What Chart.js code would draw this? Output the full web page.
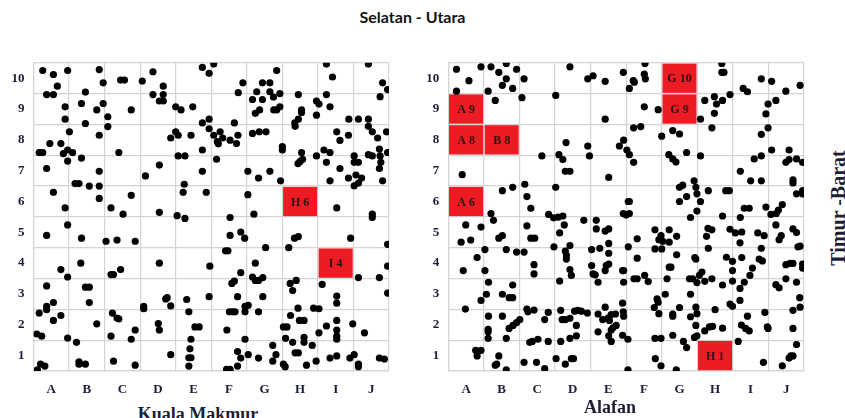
<!DOCTYPE html>
<html>
<head>
<meta charset="utf-8">
<script src="https://cdn.jsdelivr.net/npm/chart.js@4.4.1/dist/chart.umd.min.js"></script>
<style>
body{margin:0;background:#fff;width:845px;height:418px;overflow:hidden;position:relative}
.box{position:absolute}
#title{position:absolute;left:0;width:825px;top:7px;text-align:center;font:bold 16px Lato,sans-serif;color:#111}
.xt{position:absolute;width:220px;text-align:center;font:bold 18px "Liberation Serif",serif;color:#1f1f33;line-height:18px}
#side{position:absolute;left:758px;top:197px;width:160px;height:22px;line-height:22px;text-align:center;
  font:bold 20px "Liberation Serif",serif;color:#1f1f33;transform:rotate(-90deg)}
</style>
</head>
<body>
<div id="title">Selatan - Utara</div>
<div class="box" style="left:0;top:46px;width:400px;height:354px"><canvas id="left"></canvas></div>
<div class="box" style="left:410px;top:46px;width:405px;height:354px"><canvas id="right"></canvas></div>
<div class="xt" style="left:88px;top:405px">Kuala Makmur</div>
<div class="xt" style="left:500px;top:398px">Alafan</div>
<div id="side">Timur -Barat</div>
<script>
const xLabels = ['A','B','C','D','E','F','G','H','I','J'];
const yLabels = ['1','2','3','4','5','6','7','8','9','10'];

// highlighted grid cells [column, row]
const leftCells = [['H',6],['I',4]];
const rightCells = [['A',9],['A',8],['B',8],['A',6],['G',10],['G',9],['H',1]];

// Kuala Makmur points, [x, y] in grid units (A = 0..1, row 1 = 0..1)
const leftPoints = [
  [0.26,9.75],[0.56,9.62],[0.67,9.24],[0.37,8.97],[0.56,8.97],[0.96,9.75],[0.89,8.57],[0.89,8.17],[1.01,7.76],[0.46,7.38],
  [0.77,7.38],[0.16,7.09],[0.26,7.09],[0.84,7.05],[0.96,7.17],[1.10,7.09],[0.96,6.81],[0.37,6.57],[0.56,5.80],[0.89,5.29],[0.96,4.74],
  [1.35,8.68],[1.46,9.05],[1.46,8.03],[1.35,6.91],[1.17,6.08],[1.28,6.08],[1.57,6.00],[1.85,9.78],[1.96,9.35],[1.78,8.47],
  [1.96,8.68],[2.09,8.25],[2.09,7.93],[1.85,7.65],[1.85,6.48],[1.85,6.00],[1.85,5.60],[2.18,5.29],
  [2.40,7.09],[2.45,9.44],[2.56,9.44],[2.75,8.47],[2.75,5.70],[2.52,5.09],
  [3.06,9.41],[3.36,9.71],[3.36,8.97],[3.65,9.24],[3.65,8.97],[3.54,8.76],[3.65,8.76],[4.00,8.57],[4.15,8.47],[3.15,6.33],
  [3.54,6.68],[3.54,5.15],[3.86,7.56],[4.00,7.76],[4.07,7.65],[4.07,6.98],[4.26,6.98],[4.04,5.04],
  [4.24,6.06],[4.21,5.80],[4.26,4.95],[4.48,8.57],[4.43,7.65],[4.75,9.85],[4.94,9.66],[5.07,9.96],[4.75,8.05],[4.94,8.17],
  [4.94,7.86],[4.75,7.17],[4.75,6.48],[4.86,5.80],[5.07,7.65],[5.17,7.44],[5.20,7.37],[5.15,6.87],[5.25,7.76],[5.32,7.56],
  [5.53,7.49],[5.65,8.05],[5.75,7.65],[5.71,7.38],[5.76,9.03],[5.89,9.35],[5.53,4.98],[6.03,6.48],[6.03,5.72],[6.20,5.09],
  [6.16,8.81],[6.28,9.06],[6.44,9.35],[6.65,9.35],[6.24,8.36],[6.36,8.47],[6.44,8.81],[6.65,9.06],[6.75,8.89],[6.93,9.00],
  [6.76,8.47],[6.84,8.47],[6.93,8.57],[6.84,9.75],[6.16,7.71],[6.35,7.76],[6.54,7.76],[6.33,6.26],[6.65,6.48],[6.95,6.17],
  [7.00,7.28],[7.00,7.17],
  [7.45,8.97],[7.54,8.47],[7.54,8.39],[7.35,8.05],[7.45,8.17],[7.36,7.94],[7.96,8.76],[8.03,8.66],[7.96,8.30],[7.54,7.09],
  [7.57,6.87],[7.44,6.73],[7.50,6.80],[7.96,6.98],
  [8.24,9.96],[8.41,9.54],[8.24,8.97],[8.34,8.57],[8.17,7.17],[8.34,7.09],[8.24,6.77],[8.34,6.17],[8.53,5.29],[8.53,7.76],
  [8.62,7.48],[8.62,6.57],[8.86,7.65],[8.87,8.17],[8.86,6.26],[9.02,6.98],[9.02,6.77],[9.14,6.77],[9.02,6.01],[9.14,6.10],
  [9.07,6.36],[9.23,6.26],
  [9.14,8.17],[9.42,9.96],[9.42,8.17],[9.42,7.94],[9.53,7.76],[9.68,7.56],[9.75,8.90],[9.82,9.35],[9.96,9.13],[9.93,7.76],
  [9.73,7.20],[9.42,7.02],[9.53,6.98],[9.75,6.98],[9.96,7.09],[9.77,6.77],[9.73,6.57],[9.82,6.17],[9.53,5.09],[9.53,4.98],
  [0.37,4.40],[0.37,2.76],[0.37,2.10],[0.37,1.99],[0.56,2.22],[0.77,3.29],[0.96,3.05],[0.16,1.88],[0.56,1.64],[0.77,1.80],
  [0.09,1.20],[0.23,1.13],[0.96,1.07],[0.11,0.04],[0.20,0.22],[0.32,0.16],
  [1.35,4.31],[1.33,3.50],[1.46,2.72],[1.57,2.72],[1.57,2.22],[1.78,1.53],[1.21,0.93],[1.28,0.30],[1.28,0.22],[1.46,0.22],
  [2.04,4.21],[2.35,4.25],[2.86,4.21],[2.18,3.13],[2.25,3.13],[2.45,3.29],[2.22,1.88],[2.35,1.72],[2.40,1.69],[2.18,1.13],
  [2.86,1.33],[2.75,1.03],[2.25,0.32],[2.86,0.19],
  [3.10,2.10],[3.10,2.02],[3.54,3.50],[3.72,2.34],[3.76,2.38],[3.86,2.11],[3.51,1.54],[3.54,1.33],[3.86,0.53],
  [4.31,2.32],[4.37,1.92],[4.54,1.43],[4.66,1.43],[4.43,1.03],[4.40,0.72],[4.37,0.43],[4.43,0.43],[4.37,0.16],[4.96,3.40],[4.94,2.41],
  [5.40,3.90],[5.47,3.90],[5.53,4.40],[5.83,4.51],[5.94,4.31],[5.44,1.33],[5.51,1.92],[5.60,1.92],[5.67,1.92],[5.58,2.84],
  [5.65,2.92],[5.83,3.19],[5.74,2.41],[5.95,2.10],[6.04,2.13],[5.95,1.92],[5.95,1.03],[5.74,0.63],[5.83,0.42],[5.74,0.16],
  [5.43,0.05],[5.53,0.05],[6.04,0.53],
  [6.16,3.05],[6.24,2.94],[6.24,3.50],[6.33,2.94],[6.45,3.03],[6.53,4.00],[6.45,2.41],[6.33,1.92],[6.33,0.42],[6.73,0.83],
  [6.82,0.53],[6.73,0.32],[7.03,0.22],[7.08,0.14],
  [7.18,4.00],[7.34,4.31],[7.45,4.36],[7.22,2.84],[7.29,2.61],[7.39,2.94],[7.44,2.04],[7.23,1.80],[7.48,1.64],[7.61,1.64],
  [7.03,1.43],[7.13,1.43],[7.09,1.06],[7.29,0.93],[7.61,1.09],[7.61,0.93],[7.36,0.59],[7.45,0.59],[7.84,0.83],[7.68,0.19],
  [7.95,0.32],[7.88,2.04],[8.03,2.02],
  [8.12,2.81],[8.03,1.24],[8.24,1.46],[8.53,2.43],[8.53,2.20],[8.53,1.64],[8.53,1.33],[8.53,1.13],[8.53,1.03],[8.98,1.53],
  [8.34,0.42],[8.53,0.49],[8.90,0.42],[9.02,0.53],[9.14,0.22],[9.14,0.14],[8.92,4.31],[9.14,3.03],
  [9.31,1.24],[9.73,3.03],[9.96,4.11],[9.96,3.40],[9.96,2.53],[9.73,0.42],[9.87,0.39]
];

// Alafan points
const rightPoints = [
  [0.23,9.79],[0.58,9.42],[0.23,9.08],[0.92,9.87],[1.20,9.87],[1.42,9.69],[1.63,9.98],[1.63,9.48],[1.52,9.27],[1.81,9.17],
  [1.92,9.79],[2.13,9.48],[2.07,8.87],[1.32,8.78],[1.12,9.08],[3.42,9.87],[3.02,8.94],[3.92,9.48],[4.07,9.58],[4.41,9.40],
  [4.92,9.69],[5.20,9.42],[5.23,9.37],[5.09,9.17],[5.53,9.98],[5.51,9.63],[5.54,9.48],[5.51,8.57],[5.90,8.48],[4.41,8.17],
  [5.21,7.89],[5.41,7.93],[4.93,7.49],[4.81,7.30],[5.02,7.17],[5.09,7.02],[5.21,6.77],[3.92,7.30],[3.97,6.98],[3.31,7.41],
  [3.11,7.02],[3.22,6.86],[2.63,6.98],[3.29,6.48],[3.42,6.48],[4.51,6.28],[6.00,7.62],[6.31,7.80],[6.50,7.69],[6.20,7.02],
  [6.31,6.88],[6.40,6.78],[6.70,7.09],[7.09,6.98],[7.09,8.17],[7.21,8.78],[7.41,7.89],[7.48,8.90],[7.54,8.66],[7.71,8.78],
  [7.48,8.36],[7.92,8.97],[7.69,9.98],[7.69,9.69],[7.75,9.69],[8.29,9.17],[8.41,9.06],[8.80,9.48],[9.09,9.40],[9.49,9.08],
  [9.89,9.27],[8.99,8.66],[9.21,8.78],[8.93,8.34],[8.99,7.89],[8.80,7.68],[9.09,7.17],[8.80,6.98],[8.60,6.88],[9.58,7.17],
  [9.49,6.77],[9.58,6.86],[9.79,6.88],[9.96,6.77],[8.21,6.48],[8.50,6.17],[8.80,6.17],[9.69,6.20],[9.69,6.10],[9.79,5.75],
  [9.96,5.85],[9.96,5.75],[0.39,6.37],[1.52,5.85],[1.81,5.96],[2.15,6.06],[2.21,5.66],[2.32,5.28],[3.02,5.96],[1.20,5.11],
  [1.27,4.89],[2.82,5.08],[2.96,4.97],[3.09,4.99],[3.22,5.03],[3.81,4.89],[4.16,4.89],[4.92,5.11],[5.00,5.06],[5.09,5.11],
  [5.06,5.50],[5.09,5.50],[6.50,5.96],[6.59,6.03],[6.70,5.66],[6.50,5.50],[6.91,6.17],[6.96,5.96],[6.99,5.75],[7.09,5.50],
  [6.99,5.19],[6.81,4.98],[7.31,5.85],[7.80,5.85],[7.90,5.85],[7.71,5.03],[8.32,5.28],[8.46,5.28],[8.21,4.98],[8.93,5.32],
  [9.07,5.08],[9.39,5.40],[9.28,5.22],[9.22,5.11],
  [0.49,4.74],[0.92,4.67],[0.36,4.18],[0.63,4.25],[0.81,3.68],[1.03,3.94],[0.42,3.26],[1.03,3.26],[1.13,2.88],[1.07,2.49],
  [0.92,2.29],[0.48,2.01],[1.42,4.31],[1.52,4.39],[1.63,3.94],[1.92,3.86],[2.13,3.86],[1.52,2.49],[1.81,2.79],[1.71,2.38],
  [1.81,2.38],[1.13,1.78],[1.52,1.78],[1.12,1.35],[1.12,1.27],[1.12,1.06],[1.71,1.38],[1.82,1.48],[1.92,1.57],[2.01,1.67],
  [1.63,1.06],[0.77,0.67],[0.92,0.67],[0.81,0.49],[1.42,0.49],[1.32,0.19],[1.36,0.22],[1.63,0.04],
  [2.21,4.71],[2.32,4.31],[2.43,4.31],[2.41,3.45],[2.41,3.15],[2.21,2.01],[2.24,1.92],[2.41,1.98],[2.71,1.67],[2.81,1.90],
  [2.29,0.93],[2.36,0.96],[2.52,1.03],[2.81,0.96],[2.13,0.28],[2.48,0.28],[2.71,0.08],
  [3.26,4.74],[3.13,4.48],[2.97,4.03],[3.42,4.07],[3.29,3.89],[3.32,3.76],[3.32,3.63],[3.42,3.29],[3.46,3.10],[3.13,2.92],
  [3.16,1.97],[3.20,1.67],[3.29,1.67],[3.42,1.71],[3.55,1.94],[3.64,1.97],[3.74,1.94],[3.60,1.48],[3.60,1.14],[3.42,1.06],
  [3.16,0.96],[3.03,0.40],[3.29,0.22],[3.46,0.40],[3.52,0.40],[3.91,1.88],
  [4.16,4.61],[4.41,4.54],[4.51,4.61],[4.03,3.94],[4.26,3.98],[4.51,4.14],[4.51,3.82],[4.51,3.47],[4.44,3.42],[4.03,3.42],
  [4.41,3.26],[4.07,3.15],[4.13,3.12],[4.21,2.88],[4.21,1.85],[4.34,1.67],[4.41,2.07],[4.49,1.72],[4.58,1.83],[4.70,1.85],
  [4.53,1.64],[4.72,1.48],[4.63,1.40],[4.58,1.33],[4.21,1.27],[4.51,1.14],[4.58,0.96],[4.90,3.26],[4.93,3.26],[4.93,2.88],
  [4.90,2.20],[4.92,1.92],[4.93,1.78],[4.90,1.16],[5.05,1.03],[5.05,0.04],
  [5.06,4.03],[5.31,4.29],[5.31,3.66],[5.22,2.99],[5.31,2.99],[5.52,3.10],[5.62,2.90],[5.81,4.58],[5.81,3.96],[5.92,4.26],
  [5.98,4.39],[6.03,4.21],[6.00,3.96],[6.21,4.58],[6.21,4.18],[6.42,4.37],[6.42,3.77],[6.21,3.37],[6.26,3.37],[6.15,2.99],
  [6.10,2.49],[5.87,2.34],[5.90,2.23],[5.79,2.06],[5.92,1.86],[6.31,1.85],[6.31,1.78],[6.50,2.06],[6.31,1.16],[5.81,1.06],
  [5.98,1.06],[5.82,0.40],[5.98,0.17],[6.41,0.04],[6.61,0.96],[6.70,0.76],
  [6.81,2.49],[6.81,1.76],[6.96,2.07],[6.99,1.86],[6.96,1.48],[6.92,1.09],[6.99,1.14],[6.78,2.99],[6.87,2.99],[6.93,3.68],
  [6.96,3.63],[7.06,3.10],[7.13,3.21],[6.99,2.87],[7.26,4.37],[7.30,4.63],[7.41,4.58],[7.31,3.98],[7.21,2.91],[7.41,2.99],
  [7.50,1.99],[7.21,1.30],[7.34,1.43],[7.43,1.45],[7.71,1.39],[7.71,2.79],[7.82,3.69],[7.92,4.60],[7.99,3.56],[7.99,3.26],
  [7.99,2.92],[7.92,2.17],[7.99,2.10],
  [8.07,4.48],[8.20,4.16],[8.25,4.51],[8.25,3.68],[8.20,2.68],[8.32,2.88],[8.20,2.29],[8.15,0.96],[8.24,1.49],[8.36,1.38],
  [8.46,1.30],[8.41,1.78],[8.48,3.10],[8.55,3.34],[8.70,4.48],[8.88,4.39],[8.80,3.98],[8.74,3.63],[8.83,3.57],[8.90,1.90],
  [8.97,1.43],[8.99,1.38],[8.86,0.28],
  [9.21,4.74],[9.36,4.39],[9.30,4.26],[9.69,4.61],[9.79,4.49],[9.83,4.03],[9.89,4.05],[9.49,3.45],[9.61,3.49],[9.69,3.49],
  [9.49,2.99],[9.21,2.80],[9.30,2.70],[9.79,2.88],[9.96,3.47],[9.96,3.34],[9.88,2.38],[9.89,2.07],[9.69,1.97],[9.69,1.38],
  [9.79,0.86],[9.63,0.49],[9.58,0.42],[9.69,0.49],[9.39,0.17]
];

const gridColor = '#d4d4d4';
const tickFont = {family: '"Liberation Serif", serif', size: 13, weight: 'bold'};
const tickColor = '#1c1c3a';

function isHalf(v) { return Math.abs(v % 1 - 0.5) < 1e-6; }

function cellLayer(cells) {
  return {
    id: 'cells',
    beforeDatasetsDraw(chart) {
      const ctx = chart.ctx, xs = chart.scales.x, ys = chart.scales.y;
      ctx.save();
      cells.forEach(([col, row]) => {
        const i = xLabels.indexOf(col);
        const l = xs.getPixelForValue(i), r = xs.getPixelForValue(i + 1);
        const t = ys.getPixelForValue(row), b = ys.getPixelForValue(row - 1);
        ctx.fillStyle = '#ed1c24';
        ctx.fillRect(l + 0.75, t + 0.75, r - l - 1.5, b - t - 1.5);
        ctx.fillStyle = '#2a1212';
        ctx.font = 'bold 12px "Liberation Serif", serif';
        ctx.textAlign = 'center';
        ctx.textBaseline = 'middle';
        ctx.fillText(col + ' ' + row, (l + r) / 2, (t + b) / 2 + 1);
      });
      ctx.restore();
    }
  };
}

function makeChart(id, points, cells, yWidth) {
  return new Chart(document.getElementById(id), {
    type: 'scatter',
    data: {
      datasets: [{
        data: points.map(p => ({x: p[0], y: p[1]})),
        backgroundColor: '#000',
        borderWidth: 0,
        pointRadius: 3.6,
        pointHoverRadius: 3.6
      }]
    },
    options: {
      responsive: true,
      maintainAspectRatio: false,
      animation: false,
      layout: {padding: {top: 10, right: 10, left: 0, bottom: 0}},
      plugins: {legend: {display: false}, tooltip: {enabled: false}},
      scales: {
        x: {
          type: 'linear', min: 0, max: 10,
          afterFit: s => { s.height = 29; },
          border: {color: gridColor, width: 1.2},
          grid: {color: c => (c.tick && !isHalf(c.tick.value)) ? gridColor : 'rgba(0,0,0,0)', lineWidth: 1.2, drawTicks: false},
          ticks: {
            stepSize: 0.5, autoSkip: false, maxRotation: 0, padding: 11,
            font: tickFont, color: tickColor,
            callback: v => isHalf(v) ? xLabels[Math.floor(v)] : ''
          }
        },
        y: {
          type: 'linear', min: 0, max: 10,
          afterFit: s => { s.width = yWidth; },
          border: {color: gridColor, width: 1.2},
          grid: {color: c => (c.tick && !isHalf(c.tick.value)) ? gridColor : 'rgba(0,0,0,0)', lineWidth: 1.2, drawTicks: false},
          ticks: {
            stepSize: 0.5, autoSkip: false, padding: 9,
            font: tickFont, color: tickColor,
            callback: v => isHalf(v) ? yLabels[Math.floor(v)] : ''
          }
        }
      }
    },
    plugins: [cellLayer(cells)]
  });
}

makeChart('left', leftPoints, leftCells, 33.5);
makeChart('right', rightPoints, rightCells, 38.3);
</script>
</body>
</html>
